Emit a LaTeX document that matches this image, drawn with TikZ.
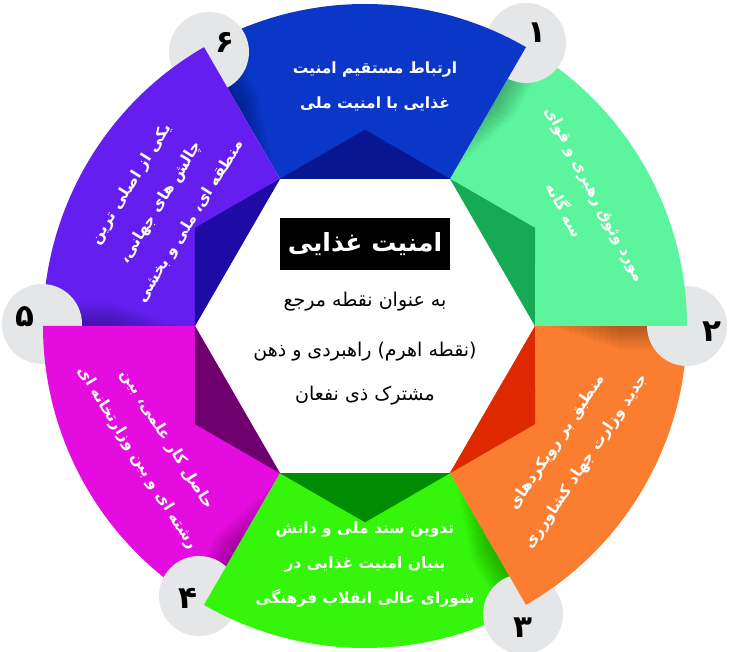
\documentclass[tikz,border=0pt]{standalone}
\usepackage{fontspec}
\newfontfamily\arabicfont[Script=Arabic]{DejaVu Sans}
\TeXXeTstate=1
\newcommand\rl[1]{\beginR #1\endR}
\definecolor{bgwhite}{RGB}{255,255,255}
\definecolor{cblue}{RGB}{10,55,200}
\definecolor{cbluedk}{RGB}{8,22,145}
\definecolor{cmint}{RGB}{92,245,158}
\definecolor{cmintdk}{RGB}{22,170,85}
\definecolor{corange}{RGB}{250,125,48}
\definecolor{corangedk}{RGB}{222,40,0}
\definecolor{clime}{RGB}{52,245,10}
\definecolor{climedk}{RGB}{0,140,0}
\definecolor{cmag}{RGB}{228,12,222}
\definecolor{cmagdk}{RGB}{110,0,110}
\definecolor{cpurp}{RGB}{100,30,240}
\definecolor{cpurpdk}{RGB}{30,10,165}
\definecolor{cgray}{RGB}{228,230,232}
\newcommand\segment[3]{%
  \fill[#2] (#1:170pt) -- (#1:322pt) arc[start angle=#1, end angle=#1+60, radius=322pt] -- (#1+60:170pt) -- cycle;
  \fill[#3] (#1:170pt) -- (#1+30:196.3pt) -- (#1+60:170pt) -- cycle;}
% soft tapered shadow cast on the segment just clockwise of the radial edge at angle #1
\newcommand\edgeshadow[1]{%
  \begin{scope}[rotate=#1]
    \clip (0,0) circle[radius=322pt];
    \foreach \w in {2,4,...,24} {\fill[black, opacity=0.025] (180+3*\w,0) rectangle (322,-\w);}
  \end{scope}}
\tikzset{
  numdisc/.style={circle, fill=cgray, minimum size=80pt, inner sep=0pt},
  numtext/.style={inner sep=0pt, text=black,
    font=\arabicfont\bfseries\fontsize{31}{31}\selectfont},
  segtext/.style={text=white, align=center, inner sep=0pt,
    font=\arabicfont\bfseries\fontsize{15.5}{35}\selectfont},
  centertext/.style={text=black, inner sep=0pt,
    font=\arabicfont\fontsize{19}{19}\selectfont},
}
\begin{document}
\begin{tikzpicture}[x=1pt,y=1pt]
\useasboundingbox (-365,-326) rectangle (364,326);
\fill[bgwhite] (-365,-326) rectangle (364,326);
% segments and discs, each disc over the segment clockwise of it
\segment{-60}{corange}{corangedk}
\edgeshadow{0}
\node[numdisc] (d2) at (322,0) {};
\segment{0}{cmint}{cmintdk}
\edgeshadow{60}
\node[numdisc] (d1) at (161,283) {};
\segment{60}{cblue}{cbluedk}
\edgeshadow{120}
\node[numdisc] (d6) at (-156,274) {};
\segment{120}{cpurp}{cpurpdk}
\edgeshadow{180}
\node[numdisc] (d5) at (-323,2) {};
\segment{180}{cmag}{cmagdk}
\edgeshadow{240}
\node[numdisc] (d4) at (-166,-270) {};
\segment{240}{clime}{climedk}
\edgeshadow{300}
\node[numdisc] (d3) at (158,-288) {};
\begin{scope}
  \clip (-365,-326) rectangle (364,-55);
  \segment{-60}{corange}{corangedk}
\end{scope}
% numbers
\node[numtext] (n1) at (172,293) {۱};
\node[numtext] (n2) at (347,-6) {۲};
\node[numtext] (n3) at (158,-302) {۳};
\node[numtext] (n4) at (-177,-272) {۴};
\node[numtext] (n5) at (-340,9) {۵};
\node[numtext] (n6) at (-140,284) {۶};
% segment texts
\node[segtext] (t1) at (10,240) {\rl{ارتباط مستقیم امنیت}\\\rl{غذایی با امنیت ملی}};
\node[segtext, rotate=-62] (t2) at (215,124) {\rl{مورد وثوق رهبری و قوای}\\\rl{سه گانه}};
\node[segtext, rotate=56] (t3) at (207,-126) {\rl{منطبق بر رویکردهای}\\\rl{جدید وزارت جهاد کشاورزی}};
\node[segtext] (t4) at (0,-239) {\rl{تدوین سند ملی و دانش}\\\rl{بنیان امنیت غذایی در}\\\rl{شورای عالی انقلاب فرهنگی}};
\node[segtext, rotate=-58] (t5) at (-213,-123) {\rl{حاصل کار علمی، بین}\\\rl{رشته ای و بین وزارتخانه ای}};
\node[segtext, rotate=58] (t6) at (-204,123) {\rl{یکی از اصلی ترین}\\\rl{چالش های جهانی،}\\\rl{منطقه ای، ملی و بخشی}};
% center
\node[fill=black, text=white, minimum width=170pt, minimum height=52pt, inner sep=0pt,
  font=\arabicfont\bfseries\fontsize{25}{25}\selectfont] (title) at (0,82) {\rl{امنیت غذایی}};
\node[centertext] (c1) at (0,24) {\rl{به عنوان نقطه مرجع}};
\node[centertext] (c2) at (0,-26) {\rl{(نقطه اهرم) راهبردی و ذهن}};
\node[centertext] (c3) at (0,-70) {\rl{مشترک ذی نفعان}};
\end{tikzpicture}
\end{document}
